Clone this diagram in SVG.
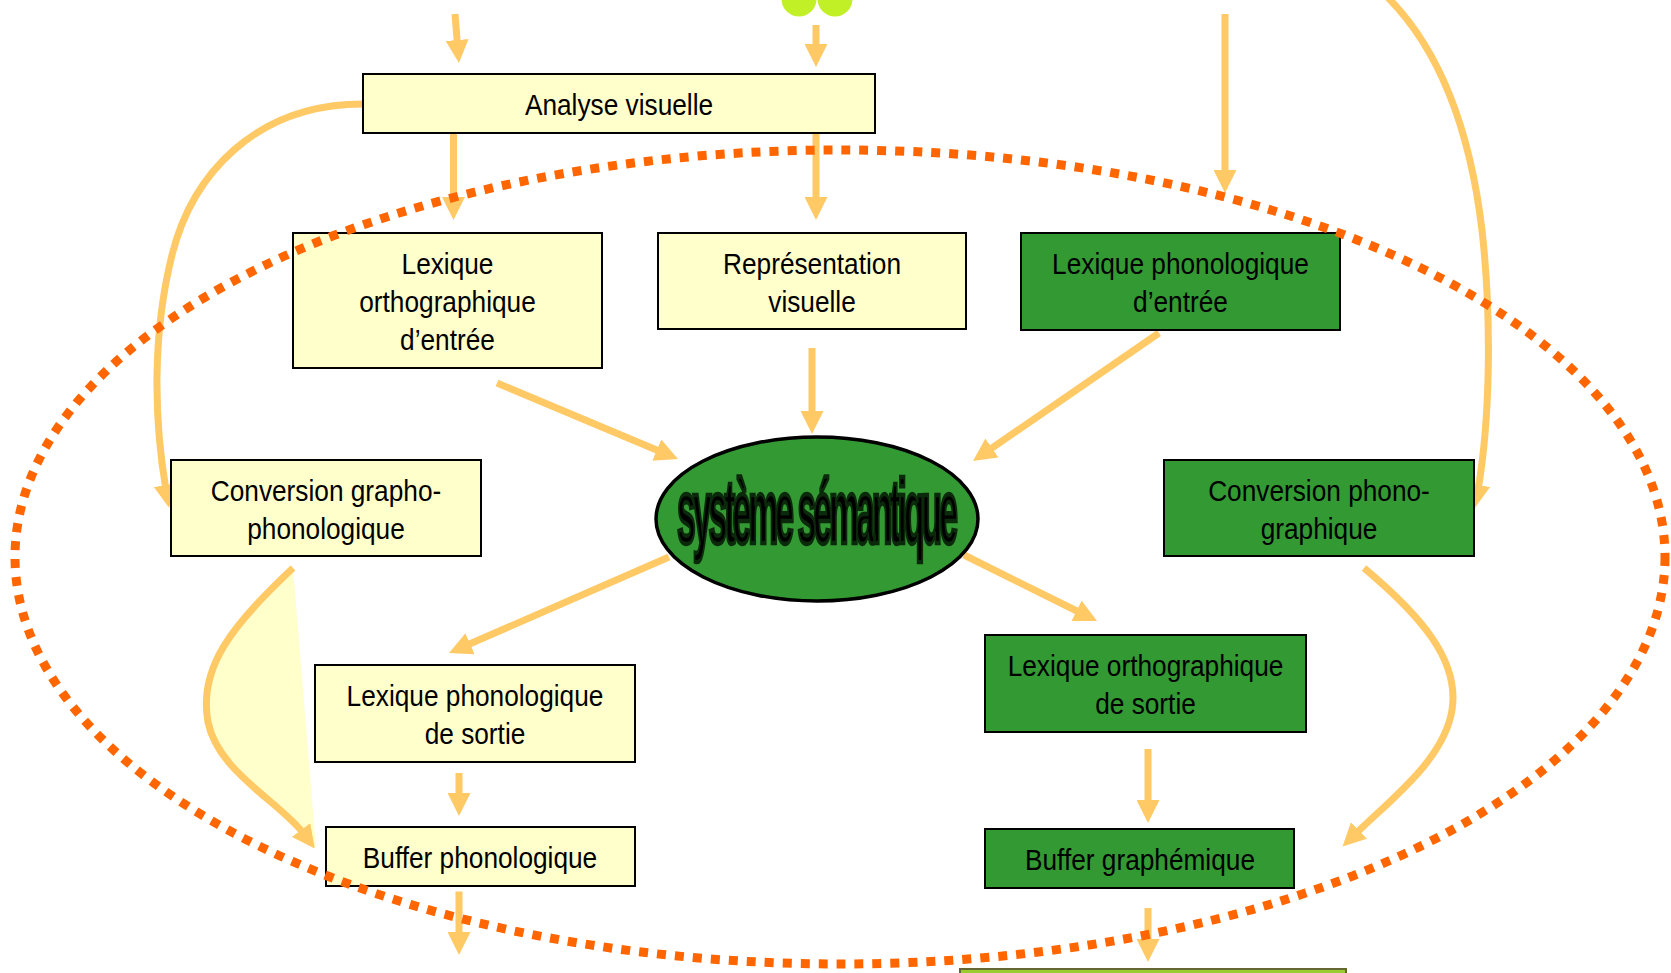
<svg xmlns="http://www.w3.org/2000/svg" width="1671" height="973" viewBox="0 0 1671 973">
<style>
.by{fill:#ffffcc;stroke:#000;stroke-width:2}
.bg{fill:#339933;stroke:#000;stroke-width:2}
.lbl{font-family:"Liberation Sans",Arial,sans-serif;font-size:30px;fill:#000;text-anchor:middle}
.conn{fill:none;stroke:#ffc966;stroke-width:7;marker-end:url(#ah)}
.dotted{fill:none;stroke:#ff6600;stroke-width:9;stroke-dasharray:9 9}
</style>
<defs>
<marker id="ah" markerUnits="userSpaceOnUse" markerWidth="23" markerHeight="23" viewBox="0 0 23 23" refX="5" refY="11.5" orient="auto">
<path d="M0,0 L23,11.5 L0,23 z" fill="#ffc966"/>
</marker>
</defs>
<rect width="1671" height="973" fill="#fff"/>
<g id="top-shape">
<circle cx="799" cy="-1" r="17.5" fill="#c2f026"/>
<circle cx="835" cy="-1" r="17.5" fill="#c2f026"/>
</g>
<g id="fill-shape">
<path d="M293,568 C232,625 198,668 208,722 C218,772 280,802 304,834 L316,848 Z" fill="#ffffcc"/>
</g>
<g id="connectors">
<path class="conn" d="M455,14 L457.5,45"/>
<path class="conn" d="M816,25 L816,49"/>
<path class="conn" d="M1225,14 L1225,175"/>
<path class="conn" d="M453.5,133 L453.5,202"/>
<path class="conn" d="M816,133 L816,202"/>
<path class="conn" d="M497,383 L661.4,452"/>
<path class="conn" d="M812,348 L812,416"/>
<path class="conn" d="M1159,333 L987.8,450.8"/>
<path class="conn" d="M363,104 C255,104 192,175 172,255 C152,335 154,420 166,490"/>
<path class="conn" d="M1380,-10 C1440,45 1470,130 1482,230 C1492,320 1490,420 1478,490"/>
<path class="conn" d="M293,568 C232,625 198,668 208,722 C218,772 280,802 304,834"/>
<path class="conn" d="M1364,568 C1420,615 1460,660 1452,710 C1444,760 1390,800 1355.4,834"/>
<path class="conn" d="M669,557 L465.5,645.8"/>
<path class="conn" d="M459,773 L459,798"/>
<path class="conn" d="M459,891.5 L459,937"/>
<path class="conn" d="M964,555 L1080.9,613"/>
<path class="conn" d="M1148,749 L1148,805"/>
<path class="conn" d="M1148,908 L1148,944"/>
</g>
<g id="analyse-visuelle">
<rect class="by" x="363" y="74" width="512" height="59"/>
<text class="lbl" transform="translate(619,0) scale(0.875,1)"><tspan x="0" y="115">Analyse visuelle</tspan></text>
</g>
<g id="lexique-ortho-entree">
<rect class="by" x="293" y="233" width="309" height="135"/>
<text class="lbl" transform="translate(447.5,0) scale(0.875,1)"><tspan x="0" y="274">Lexique</tspan><tspan x="0" y="312">orthographique</tspan><tspan x="0" y="350">d’entrée</tspan></text>
</g>
<g id="representation-visuelle">
<rect class="by" x="658" y="233" width="308" height="96"/>
<text class="lbl" transform="translate(812,0) scale(0.875,1)"><tspan x="0" y="274">Représentation</tspan><tspan x="0" y="312">visuelle</tspan></text>
</g>
<g id="lexique-phono-entree">
<rect class="bg" x="1021" y="233" width="319" height="97"/>
<text class="lbl" transform="translate(1180.5,0) scale(0.875,1)"><tspan x="0" y="274">Lexique phonologique</tspan><tspan x="0" y="312">d’entrée</tspan></text>
</g>
<g id="conversion-grapho">
<rect class="by" x="171" y="460" width="310" height="96"/>
<text class="lbl" transform="translate(326,0) scale(0.875,1)"><tspan x="0" y="501">Conversion grapho-</tspan><tspan x="0" y="539">phonologique</tspan></text>
</g>
<g id="conversion-phono">
<rect class="bg" x="1164" y="460" width="310" height="96"/>
<text class="lbl" transform="translate(1319,0) scale(0.875,1)"><tspan x="0" y="501">Conversion phono-</tspan><tspan x="0" y="539">graphique</tspan></text>
</g>
<g id="systeme-semantique">
<ellipse cx="817" cy="519" rx="161" ry="82" fill="#339933" stroke="#000" stroke-width="3.5"/>
<text transform="translate(816,543) scale(0.375,1)" x="0" y="0" text-anchor="middle" font-family="Liberation Sans,Arial,sans-serif" font-size="90" font-weight="bold" letter-spacing="-8" fill="#000" stroke="#0b2a0b" stroke-width="4.5">système sémantique</text>
</g>
<g id="lexique-phono-sortie">
<rect class="by" x="315" y="665" width="320" height="97"/>
<text class="lbl" transform="translate(475,0) scale(0.875,1)"><tspan x="0" y="706">Lexique phonologique</tspan><tspan x="0" y="744">de sortie</tspan></text>
</g>
<g id="lexique-ortho-sortie">
<rect class="bg" x="985" y="635" width="321" height="97"/>
<text class="lbl" transform="translate(1145.5,0) scale(0.875,1)"><tspan x="0" y="676">Lexique orthographique</tspan><tspan x="0" y="714">de sortie</tspan></text>
</g>
<g id="buffer-phono">
<rect class="by" x="326" y="827" width="309" height="59"/>
<text class="lbl" transform="translate(480,0) scale(0.875,1)"><tspan x="0" y="868">Buffer phonologique</tspan></text>
</g>
<g id="buffer-graph">
<rect class="bg" x="985" y="829" width="309" height="59"/>
<text class="lbl" transform="translate(1140,0) scale(0.875,1)"><tspan x="0" y="870">Buffer graphémique</tspan></text>
</g>
<g id="bottom-box">
<rect x="960" y="969" width="386" height="20" fill="#99cc33" stroke="#666633" stroke-width="2"/>
</g>
<g id="dotted-boundary">
<ellipse class="dotted" cx="840" cy="557" rx="825" ry="407"/>
</g>
</svg>
